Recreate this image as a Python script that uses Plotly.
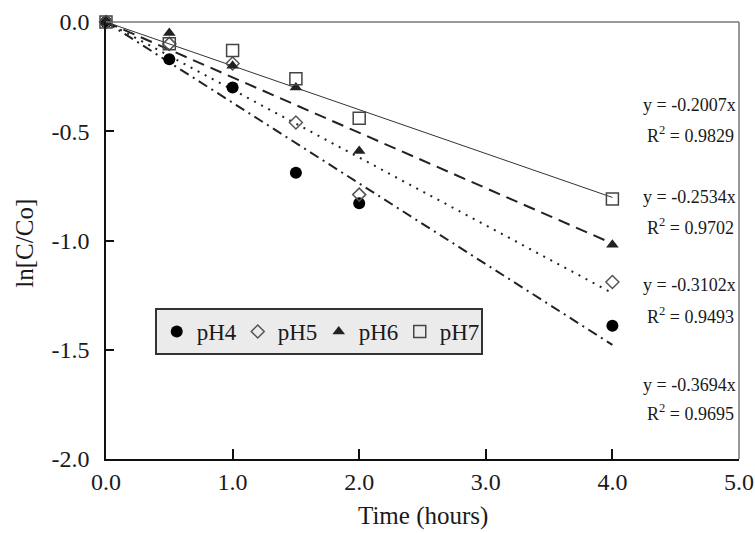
import plotly.graph_objects as go

# ---- data ----
time_h = [0.0, 0.5, 1.0, 1.5, 2.0, 4.0]
ph4 = [0.0, -0.17, -0.30, -0.69, -0.83, -1.39]
ph5 = [0.0, -0.10, -0.19, -0.46, -0.79, -1.19]
ph6 = [0.0, -0.05, -0.20, -0.30, -0.59, -1.02]
ph7 = [0.0, -0.10, -0.13, -0.26, -0.44, -0.81]
series_names = ["pH4", "pH5", "pH6", "pH7"]
slopes = [-0.3694, -0.3102, -0.2534, -0.2007]
r2_values = [0.9695, 0.9493, 0.9702, 0.9829]
fit_x = [0.0, 4.0]
x_ticks = [0, 1, 2, 3, 4, 5]
x_tick_text = ["0.0", "1.0", "2.0", "3.0", "4.0", "5.0"]
y_ticks = [0.0, -0.5, -1.0, -1.5, -2.0]
y_tick_text = ["0.0", "-0.5", "-1.0", "-1.5", "-2.0"]

FONT = "Liberation Serif"
TXT = "#1a1a1a"
series = [ph4, ph5, ph6, ph7]
markers = [
    dict(symbol="circle", size=12, color="#000000"),
    dict(symbol="diamond-open", size=10, color="#555555", line=dict(width=1.5)),
    dict(symbol="triangle-up", size=11, color="#222222"),
    dict(symbol="square-open", size=12, color="#444444", line=dict(width=1.5)),
]
line_styles = [
    dict(color="#222222", width=2, dash="10px,5px,2px,5px"),
    dict(color="#222222", width=2, dash="2px,6px"),
    dict(color="#222222", width=2, dash="12px,7px"),
    dict(color="#333333", width=1, dash="solid"),
]

fig = go.Figure()

# fitted lines
for name, s, ls in zip(series_names, slopes, line_styles):
    fig.add_trace(go.Scatter(
        x=fit_x, y=[s * v for v in fit_x], mode="lines",
        line=ls, showlegend=False, hoverinfo="skip", cliponaxis=False,
    ))

# data markers
for name, ys, mk in zip(series_names, series, markers):
    fig.add_trace(go.Scatter(
        x=time_h, y=ys, mode="markers", name=name, marker=mk, cliponaxis=False,
    ))

# equation annotations
eq_y = [-1.661, -1.204, -0.80, -0.38]
r2_y = [-1.789, -1.341, -0.938, -0.517]
for s, r2, ye, yr in zip(slopes, r2_values, eq_y, r2_y):
    fig.add_annotation(x=0.998, xref="paper", y=ye, yref="y", xanchor="right",
                       yanchor="middle", showarrow=False,
                       text=f"y = {s:.4f}x", font=dict(family=FONT, size=18, color=TXT))
    fig.add_annotation(x=0.995, xref="paper", y=yr, yref="y", xanchor="right",
                       yanchor="middle", showarrow=False,
                       text=f"R<sup>2</sup> = {r2:.4f}", font=dict(family=FONT, size=18, color=TXT))

# axis titles
fig.add_annotation(x=-0.128, xref="paper", y=0.495, yref="paper", textangle=-90,
                   xanchor="center", yanchor="middle",
                   showarrow=False, text="ln[C/Co]",
                   font=dict(family=FONT, size=25, color=TXT))
fig.add_annotation(x=0.5, xref="paper", y=-0.167, yref="paper",
                   xanchor="center", yanchor="bottom",
                   showarrow=False, text="Time (hours)",
                   font=dict(family=FONT, size=25, color=TXT))

# top and right frame lines (grey in the reference)
fig.add_shape(type="line", xref="paper", yref="paper", x0=0, x1=1, y0=1, y1=1,
              line=dict(color="#777777", width=1.5))
fig.add_shape(type="line", xref="paper", yref="paper", x0=1, x1=1, y0=0, y1=1,
              line=dict(color="#777777", width=1.5))

fig.update_layout(
    width=755, height=533,
    margin=dict(l=106, r=16, t=22, b=74, autoexpand=False),
    paper_bgcolor="white", plot_bgcolor="white",
    font=dict(family=FONT, size=24, color=TXT),
    legend=dict(
        orientation="h", x=0.077, y=0.3455, xanchor="left", yanchor="top",
        bgcolor="#ebebeb", bordercolor="#333333", borderwidth=2,
        font=dict(family=FONT, size=23, color=TXT),
        itemwidth=30, entrywidth=36,
    ),
    xaxis=dict(
        range=[0, 5], tickvals=x_ticks, ticktext=x_tick_text,
        ticks="inside", ticklen=10, tickcolor="#111111", tickwidth=1.5,
        showline=True, linecolor="#111111", linewidth=1.5,
        showgrid=False, zeroline=False, automargin=False,
        tickfont=dict(family=FONT, size=24),
    ),
    yaxis=dict(
        range=[-2, 0], tickvals=y_ticks, ticktext=y_tick_text,
        ticks="inside", ticklen=8, tickcolor="#111111", tickwidth=1.5,
        showline=True, linecolor="#111111", linewidth=1.5,
        showgrid=False, zeroline=False, automargin=False,
        tickfont=dict(family=FONT, size=24),
        ticklabelstandoff=10,
    ),
)

fig.write_html("out.html", config={"displayModeBar": False},
               post_script="document.body.style.margin='0px';")
